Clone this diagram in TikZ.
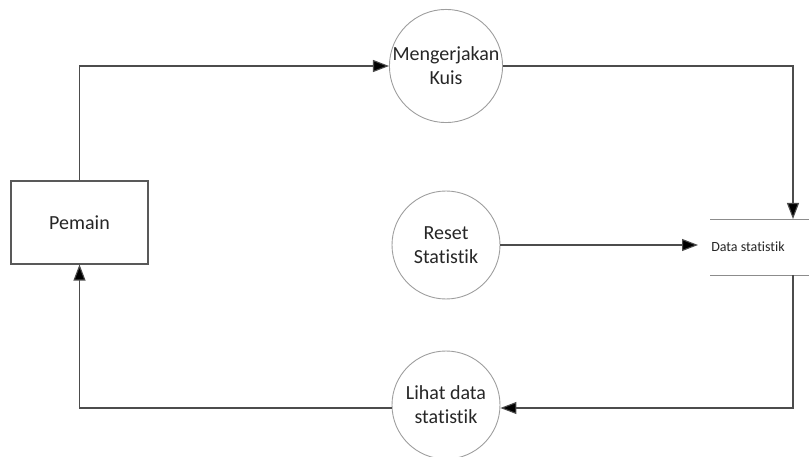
\documentclass[tikz,border=0pt]{standalone}
\usepackage{fontspec}
\setmainfont{Carlito}[Ligatures=NoCommon]
\usetikzlibrary{arrows.meta}
\begin{document}
\begin{tikzpicture}[x=1pt,y=-1pt,
  process/.style={circle,draw=black!38,line width=0.9pt,minimum size=108pt,inner sep=0pt,align=center,font=\fontsize{20}{24}\selectfont,text=black!85},
  entity/.style={rectangle,draw=black!65,line width=1.1pt,minimum width=137pt,minimum height=83pt,font=\fontsize{20}{24}\selectfont,text=black!85},
  flow/.style={draw=black!70,line width=1.1pt,-{Triangle[length=16pt,width=12pt,fill=black]}},
  storeline/.style={draw=black!45,line width=0.9pt}]
\useasboundingbox (0,0) rectangle (809,457);
\clip (0,0) rectangle (809,457);

% external entity
\node[entity] (pemain) at (79.5,222.5) {Pemain};

% processes
\node[process] (kuis) at (446,66) {Mengerjakan\\Kuis};
\node[process] (reset) at (446,245) {Reset\\Statistik};
\node[process] (lihat) at (446,405) {Lihat data\\statistik};

% data store
\coordinate (dsTL) at (710,219);
\coordinate (dsTR) at (809,219);
\coordinate (dsBL) at (710,275);
\coordinate (dsBR) at (809,275);
\draw[storeline] (dsTL) -- (dsTR);
\draw[storeline] (dsBL) -- (dsBR);
\node[font=\fontsize{14}{17}\selectfont,text=black!85] (store) at (748,247) {Data statistik};
\coordinate (storeTop) at (793,219);
\coordinate (storeBot) at (793,275);
\coordinate (storeLeft) at (698,245);

% flows
\draw[flow] (pemain.north) |- (kuis.west);
\draw[flow] (kuis.east) -| (storeTop);
\draw[flow] (reset.east) -- (storeLeft);
\draw[flow] (storeBot) |- (lihat.east |- 0,408);
\draw[flow] (lihat.west |- 0,408) -| (pemain.south);
\end{tikzpicture}
\end{document}
